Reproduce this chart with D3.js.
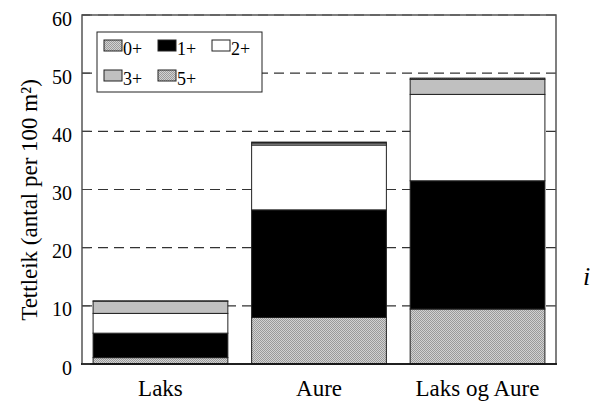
<!DOCTYPE html>
<html><head><meta charset="utf-8">
<script src="https://cdn.jsdelivr.net/npm/d3@7"></script>
<style>
body{margin:0;background:#fff}
#wrap{position:relative;width:593px;height:401px}
#wrap svg{position:absolute;left:0;top:0;display:block}
.lab{position:absolute;font-family:'Liberation Serif';color:#000;white-space:nowrap;line-height:1}
</style>
</head><body>
<div id="wrap"></div>
<script>
const categories = ["Laks", "Aure", "Laks og Aure"];
const seriesNames = ["0+", "1+", "2+", "3+", "5+"];
const v0 = [1.1, 8.0, 9.45];
const v1 = [4.2, 18.5, 22.05];
const v2 = [3.4, 11.15, 14.85];
const v3 = [2.1, 0.35, 2.6];
const v5 = [0.05, 0.15, 0.2];
const yTicks = [0, 10, 20, 30, 40, 50, 60];
const seriesValues = [v0, v1, v2, v3, v5];
const yTitle = "Tettleik (antal per 100 m²)";

const W = 593, H = 401;
const wrap = d3.select("#wrap");
const svg = wrap.append("svg").attr("id", "chart").attr("width", W).attr("height", H);
svg.append("style").text("svg#chart text{font-family:'Liberation Serif' !important;}");
const defs = svg.append("defs");
const pat = defs.append("pattern").attr("id", "dots").attr("width", 2).attr("height", 2).attr("patternUnits", "userSpaceOnUse");
pat.append("rect").attr("width", 2).attr("height", 2).attr("fill", "#d2d2d2");
pat.append("rect").attr("width", 1).attr("height", 1).attr("fill", "#9a9a9a");
pat.append("rect").attr("x", 1).attr("y", 1).attr("width", 1).attr("height", 1).attr("fill", "#9a9a9a");

const fills = ["url(#dots)", "#000", "#fff", "#c0c0c0", "url(#dots)"];

const x = d3.scaleBand().domain(categories).range([82, 556]).paddingInner(0.15).paddingOuter(0.07);
const y = d3.scaleLinear().domain([0, 60]).range([364, 15]);

svg.append("g").selectAll("line").data(yTicks.filter(t => t > 0)).join("line")
  .attr("x1", 82).attr("x2", 556).attr("y1", d => y(d)).attr("y2", d => y(d))
  .attr("stroke", "#333").attr("stroke-width", 1.2).attr("stroke-dasharray", "10,6");

const rows = categories.map((c, i) => {
  const o = {cat: c};
  seriesNames.forEach((s, k) => o[s] = seriesValues[k][i]);
  return o;
});
const stack = d3.stack().keys(seriesNames)(rows);
stack.forEach((layer, k) => {
  svg.append("g").selectAll("rect").data(layer).join("rect")
    .attr("x", d => x(d.data.cat)).attr("width", x.bandwidth())
    .attr("y", d => y(d[1])).attr("height", d => y(d[0]) - y(d[1]))
    .attr("fill", fills[k]).attr("stroke", "#222").attr("stroke-width", 1);
});

svg.append("rect").attr("x", 82).attr("y", 15).attr("width", 474).attr("height", 349)
  .attr("fill", "none").attr("stroke", "#555").attr("stroke-width", 1.5);
svg.append("line").attr("x1", 81).attr("x2", 557).attr("y1", 364).attr("y2", 364).attr("stroke", "#000").attr("stroke-width", 1.5);

// y axis (SVG text)
const yAxis = d3.axisLeft(y).tickValues(yTicks).tickSize(0).tickPadding(10);
const ga = svg.append("g").attr("transform", "translate(82,0)").call(yAxis);
ga.attr("font-family", "Liberation Serif").attr("font-size", 20);
ga.select(".domain").remove();
ga.selectAll("text").attr("dy", "10px").attr("fill", "#000").style("font-size", "20px");
svg.append("g").selectAll("line").data(yTicks).join("line")
  .attr("x1", 82).attr("x2", 90).attr("y1", d => y(d)).attr("y2", d => y(d)).attr("stroke", "#444");

// x axis (SVG text)
const xAxis = d3.axisBottom(x).tickSize(0).tickPadding(0);
const gx = svg.append("g").attr("transform", "translate(0,364)").call(xAxis);
gx.attr("font-family", "Liberation Serif").attr("font-size", 23);
gx.select(".domain").remove();
gx.selectAll("text").attr("y", 32).attr("dy", 0).attr("fill", "#000").style("font-size", "23px");

// legend box and swatches
svg.append("rect").attr("x", 97).attr("y", 32).attr("width", 165).attr("height", 60)
  .attr("fill", "#fff").attr("stroke", "#222").attr("stroke-width", 1);
const legPos = [[104, 40], [158, 40], [212, 40], [104, 70], [158, 70]];
seriesNames.forEach((s, k) => {
  const [lx, ly] = legPos[k];
  svg.append("rect").attr("x", lx).attr("y", ly).attr("width", 18).attr("height", 11)
    .attr("fill", fills[k]).attr("stroke", "#222");
  // HTML labels (baseline at ly+16; line-height 1 => top ≈ baseline - 0.89em)
  wrap.append("div").attr("class", "lab").style("font-size", "18px")
    .style("left", (lx + 19) + "px").style("top", (ly + 16 - 16) + "px").text(s);
});

// y title as HTML, rotated
wrap.append("div").attr("class", "lab").style("font-size", "23px")
  .style("left", "29px").style("top", "200px")
  .style("transform", "translate(-50%,-50%) rotate(-90deg)")
  .text(yTitle);

// stray italic label
wrap.append("div").attr("class", "lab").style("font-size", "26px").style("font-style", "italic")
  .style("left", "583px").style("top", "264px").text("i");
</script>
</body></html>
